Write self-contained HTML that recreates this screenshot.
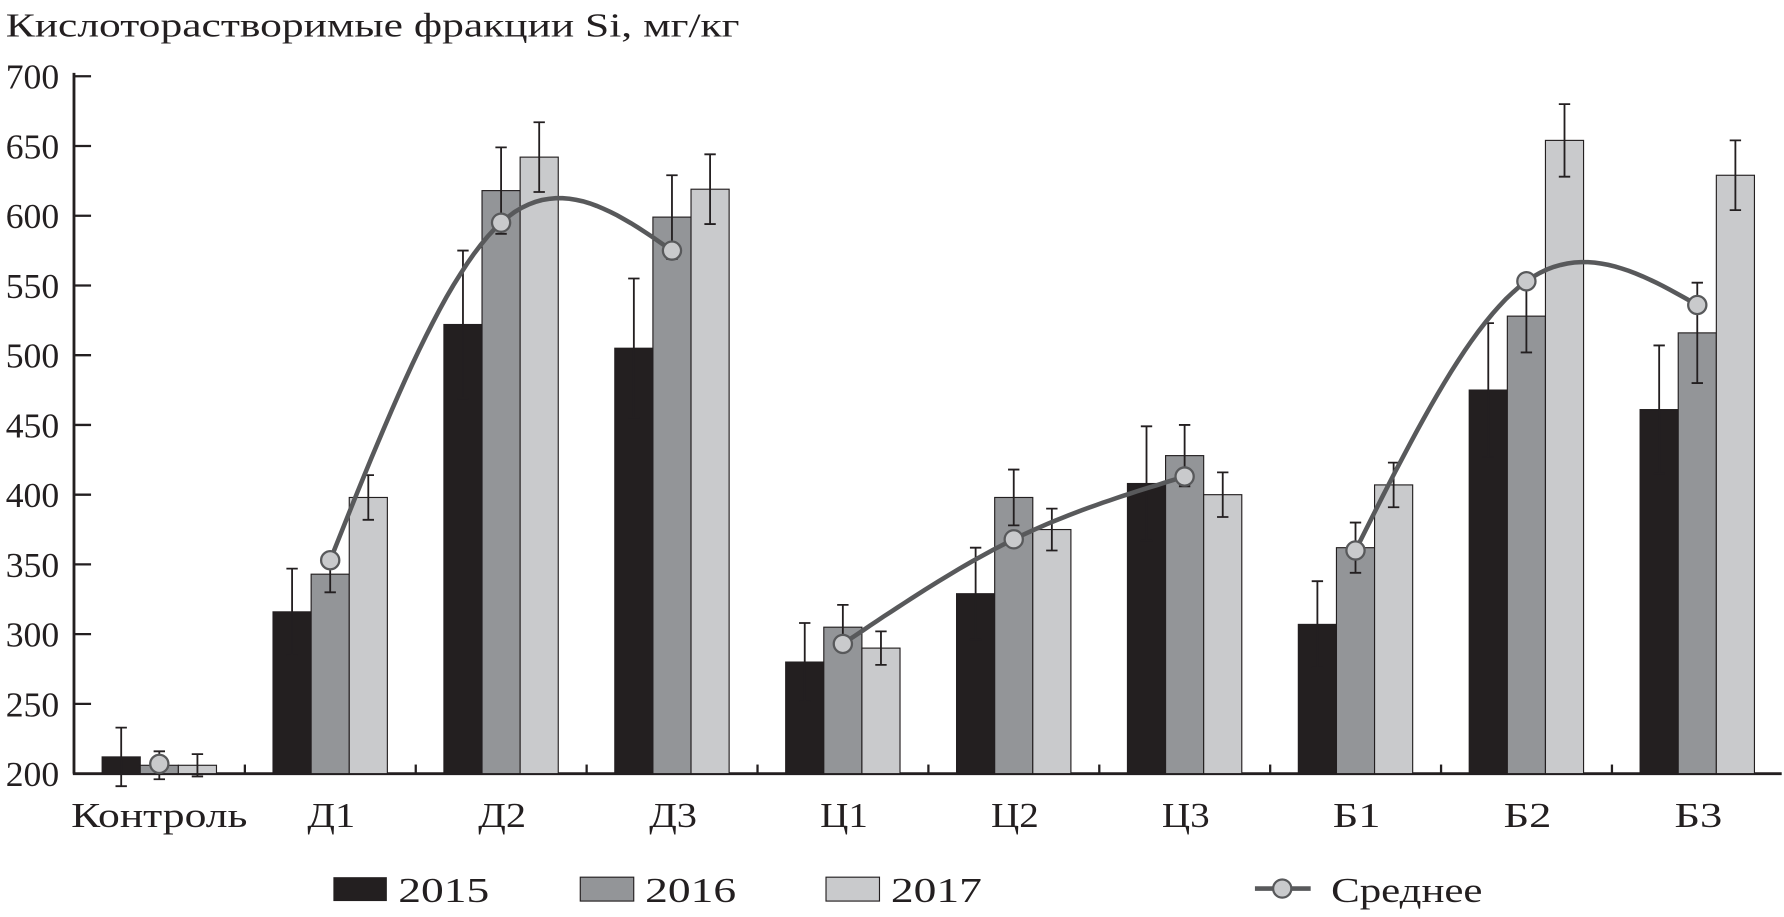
<!DOCTYPE html>
<html><head><meta charset="utf-8"><style>
html,body{margin:0;padding:0;background:#fff;}
svg{display:block;font-family:"Liberation Serif",serif;}
</style></head><body>
<svg id="chart" width="1784" height="917" viewBox="0 0 1568 806" xmlns="http://www.w3.org/2000/svg">
<text x="5" y="32" font-size="30" fill="#231f20" textLength="645" lengthAdjust="spacingAndGlyphs">Кислоторастворимые фракции Si, мг/кг</text>
<g id="axes"></g><g id="bars"></g><g id="errs"></g><g id="mean"></g>
<g id="legend">
<rect x="293" y="771" width="47" height="21" fill="#231f20"/>
<text x="350" y="793" font-size="31" fill="#231f20" textLength="80" lengthAdjust="spacingAndGlyphs">2015</text>
<rect x="510" y="771" width="47" height="21" fill="#939598" stroke="#231f20" stroke-width="1"/>
<text x="567" y="793" font-size="31" fill="#231f20" textLength="80" lengthAdjust="spacingAndGlyphs">2016</text>
<rect x="726" y="771" width="47" height="21" fill="#c9cacc" stroke="#231f20" stroke-width="1"/>
<text x="783" y="793" font-size="31" fill="#231f20" textLength="80" lengthAdjust="spacingAndGlyphs">2017</text>
<line x1="1103" y1="781" x2="1152" y2="781" stroke="#58595b" stroke-width="4"/>
<circle cx="1127" cy="781" r="8" fill="#c9cacc" stroke="#58595b" stroke-width="2"/>
<text x="1170" y="793" font-size="31" fill="#231f20" textLength="133" lengthAdjust="spacingAndGlyphs">Среднее</text>
</g>
</svg>
<script>
const categories=["Контроль","Д1","Д2","Д3","Ц1","Ц2","Ц3","Б1","Б2","Б3"];
const v2015=[212,316,522,505,280,329,408,307,475,461];
const v2016=[206,343,618,599,305,398,428,362,528,516];
const v2017=[206,398,642,619,290,375,400,407,654,629];
const e2015=[21,31,53,50,28,33,41,31,48,46];
const e2016=[10,13,31,30,16,20,22,18,26,36];
const e2017=[8,16,25,25,12,15,16,16,26,25];
const meanVals=[207,353,595,575,293,368,413,360,553,536];
const yTicks=[200,250,300,350,400,450,500,550,600,650,700];
const NS="http://www.w3.org/2000/svg";
const y0=680,y1=67,vmin=200,vmax=700;
function y(v){return y0-(v-vmin)/(vmax-vmin)*(y0-y1);}
function xc(i){return 140+i*150.2;}
const bw=33.5;
function mk(tag,attrs,parent){const e=document.createElementNS(NS,tag);for(const k in attrs)e.setAttribute(k,attrs[k]);parent.appendChild(e);return e;}
const axes=document.getElementById('axes'),bars=document.getElementById('bars'),errs=document.getElementById('errs'),mean=document.getElementById('mean');
let ax=mk('line',{x1:65,y1:y1-3,x2:65,y2:y0,stroke:'#231f20','stroke-width':2.5},axes);


let xa=mk('line',{x1:64,y1:y0,x2:1566,y2:y0,stroke:'#231f20','stroke-width':2.5},axes);


yTicks.forEach(t=>{
  let l=mk('line',{x1:65,y1:y(t),x2:80,y2:y(t),stroke:'#231f20','stroke-width':2},axes);
  
  
  let tx=mk('text',{x:5,y:y(t)+11,'font-size':31,fill:'#231f20',textLength:47,lengthAdjust:'spacingAndGlyphs'},axes);
  tx.textContent=t;
  
  
});
categories.forEach((c,i)=>{
  const w=c.length>3?155:42;
  let tx=mk('text',{x:xc(i)-w/2+(i==0?0:1),y:727,'font-size':31,fill:'#231f20',textLength:w,lengthAdjust:'spacingAndGlyphs'},axes);
  tx.textContent=c;
  
  
  if(i>0){let l=mk('line',{x1:xc(i)-75,y1:y0,x2:xc(i)-75,y2:y0-8,stroke:'#231f20','stroke-width':2},axes);
  
  }
});
const series=[[v2015,e2015,'#231f20','2015'],[v2016,e2016,'#939598','2016'],[v2017,e2017,'#c9cacc','2017']];
series.forEach((s,k)=>{
  s[0].forEach((v,i)=>{
    const x=xc(i)+(k-1)*bw-bw/2;
    let r=mk('rect',{x:x,y:y(v),width:bw,height:y0-y(v),fill:s[2],stroke:'#231f20','stroke-width':1},bars);
    
    
    const cx=x+bw/2,e=s[1][i];
    let g=mk('path',{d:`M${cx},${y(v+e)}V${y(v-e)}M${cx-5},${y(v+e)}H${cx+5}M${cx-5},${y(v-e)}H${cx+5}`,stroke:'#231f20','stroke-width':1.6,fill:'none'},errs);
    
    
  });
});
// natural cubic spline through each triplet
[[1,2,3],[4,5,6],[7,8,9]].forEach(tr=>{
  const a=meanVals[tr[0]],b=meanVals[tr[1]],c=meanVals[tr[2]];
  const M=1.5*(a-2*b+c);
  const bL=(b-a)-M/6, bR=(b-c)-M/6;
  let d='';
  for(let t=0;t<=2.0001;t+=0.04){
    let v;
    if(t<=1) v=a+bL*t+M*t*t*t/6;
    else {const u=2-t; v=c+bR*u+M*u*u*u/6;}
    const x=xc(tr[0])+t*150.2;
    d+=(d?'L':'M')+x.toFixed(1)+','+y(v).toFixed(1);
  }
  let p=mk('path',{d:d,stroke:'#58595b','stroke-width':4,fill:'none'},mean);
  
  
});
meanVals.forEach((v,i)=>{
  let m=mk('circle',{cx:xc(i),cy:y(v),r:8,fill:'#c9cacc',stroke:'#58595b','stroke-width':2},mean);
  
  
});
</script>
</body></html>
